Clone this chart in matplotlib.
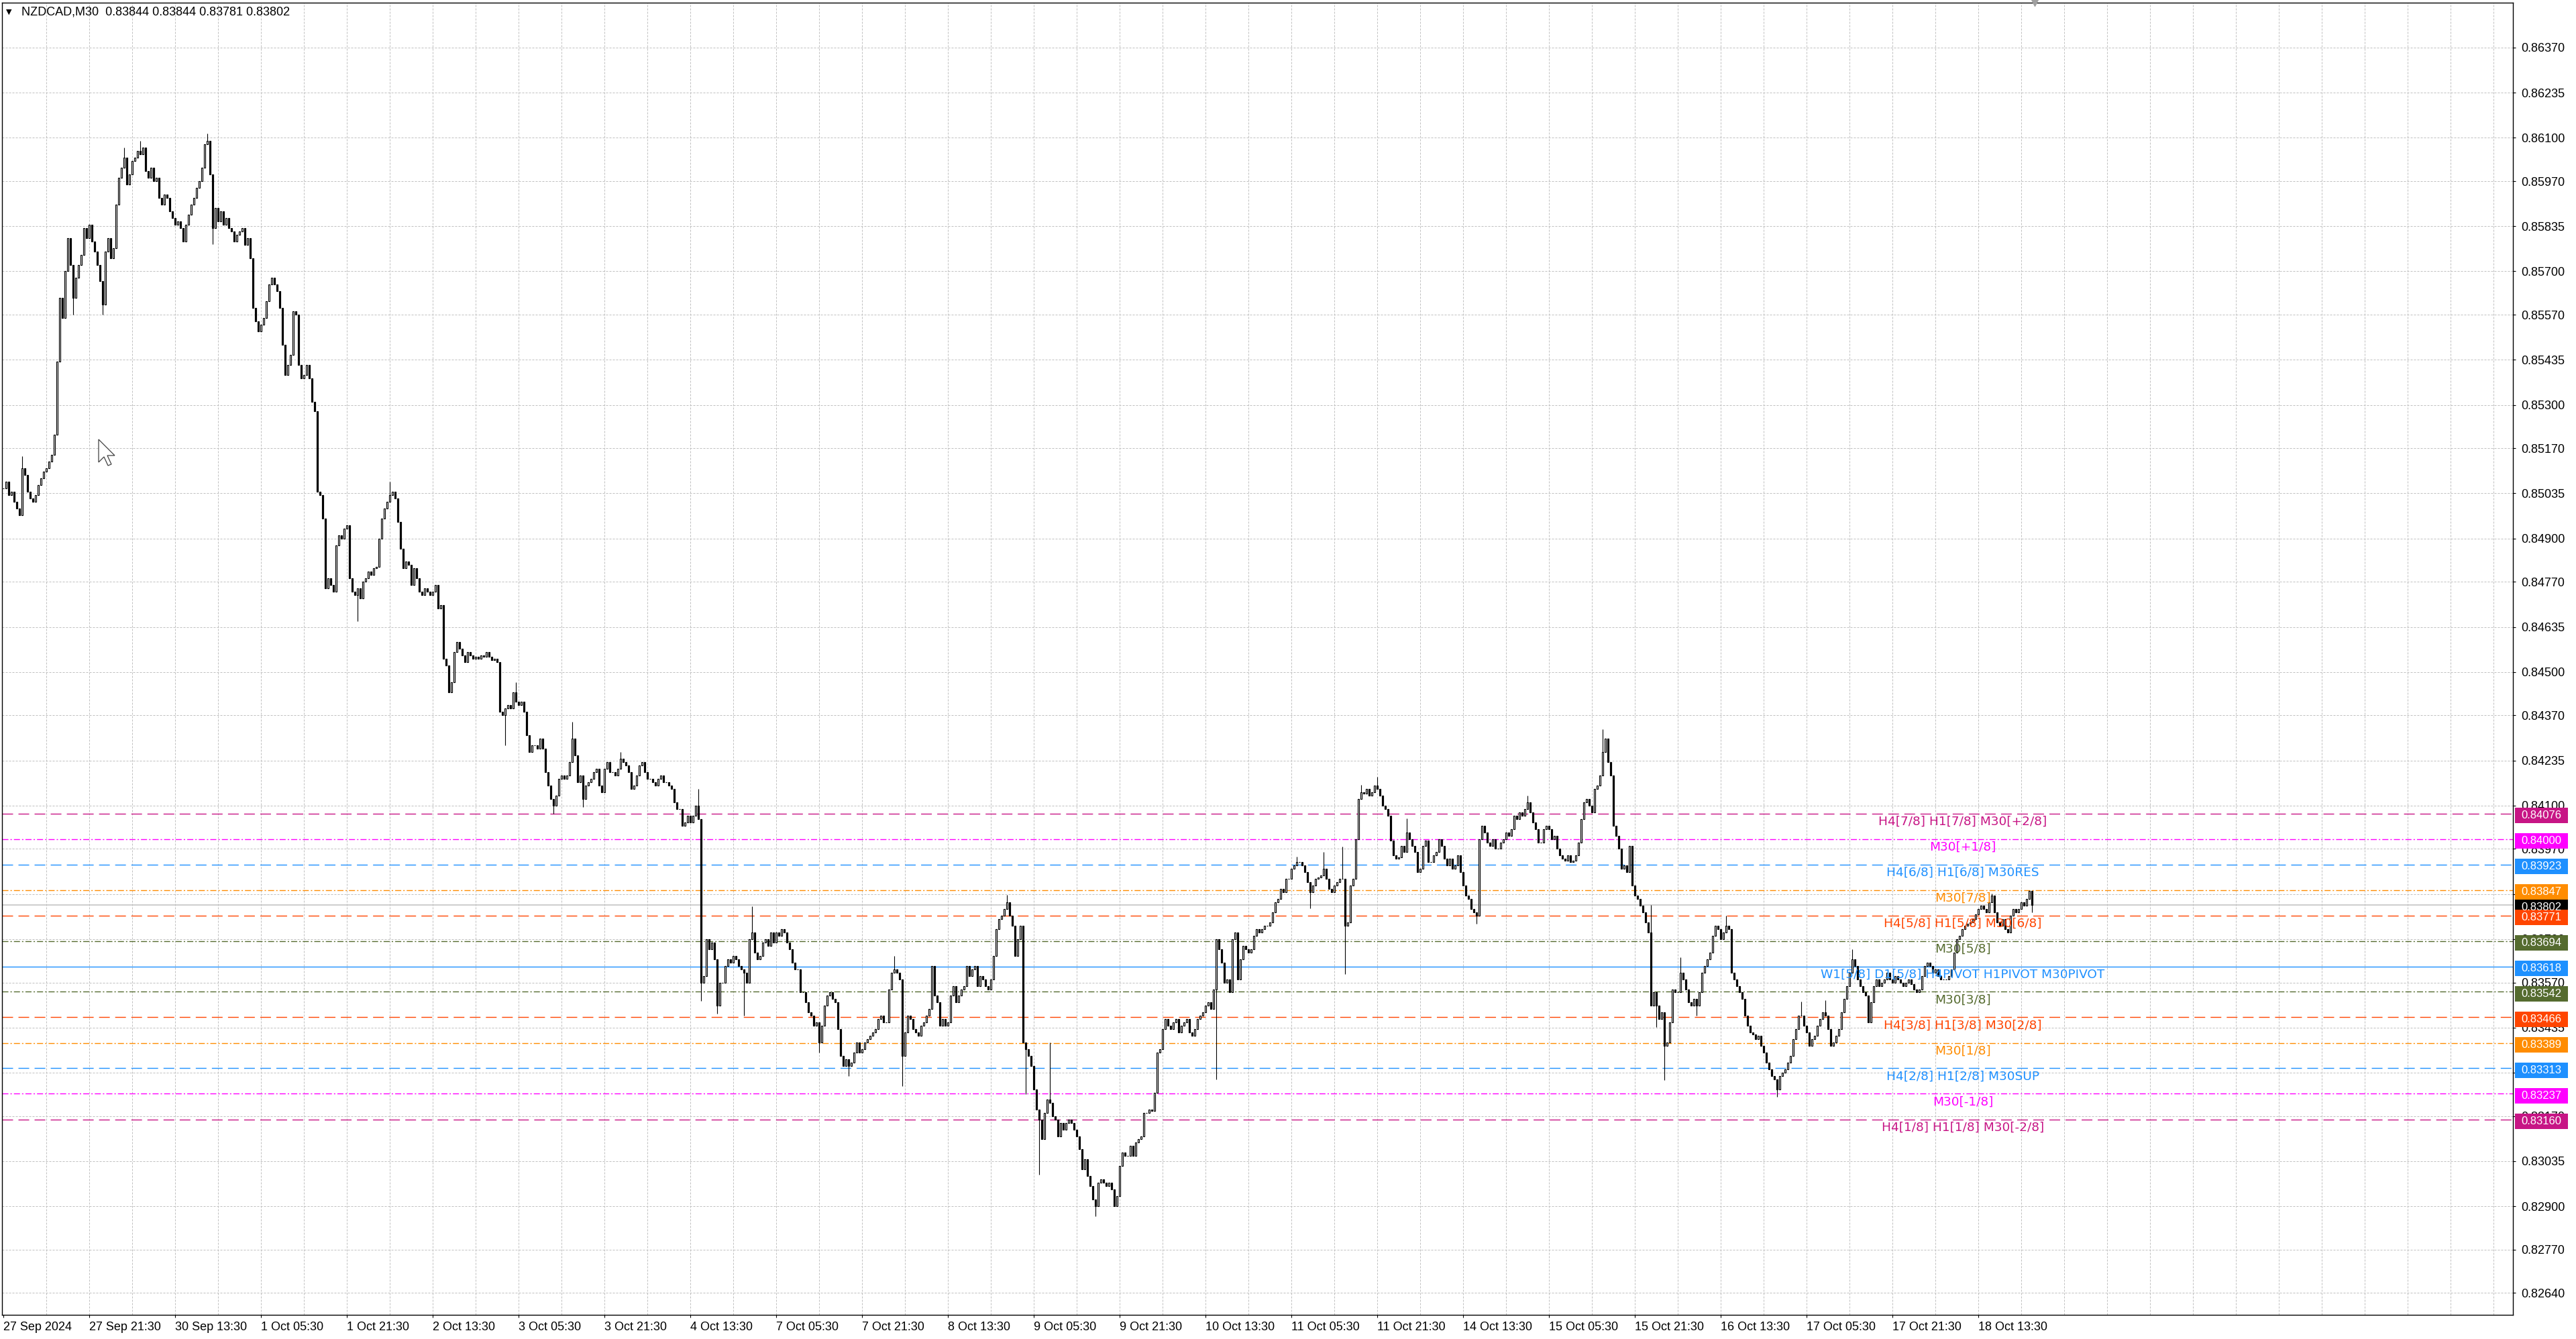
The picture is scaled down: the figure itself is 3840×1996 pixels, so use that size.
import numpy as np
import matplotlib.pyplot as plt
from matplotlib.patches import Rectangle, Polygon

title_text = "NZDCAD,M30  0.83844 0.83844 0.83781 0.83802"

# M30 closes, in points (1e-5), one per bar, 27 Sep 05:30 .. 18 Oct 23:30
close_pts = [
    85050, 85070, 85030, 85040, 85010, 84990, 84970, 85110, 85090, 85040, 85020, 85010, 85030, 85060, 85080, 85100,
    85110, 85130, 85150, 85210, 85430, 85620,
    85560, 85700, 85800, 85720, 85620, 85680, 85720, 85750, 85830, 85800, 85840, 85790, 85760, 85720, 85670,
    85600, 85760, 85800, 85740, 85770, 85900, 85980, 86010, 86040, 85960, 85990, 86030, 86040, 86060, 86050, 86070,
    86000, 85980, 86010, 85970, 85980, 85920, 85900, 85930, 85920, 85880, 85860, 85840,
    85850, 85830, 85790, 85840, 85870, 85900, 85920, 85950, 85970, 86010, 86080, 86090, 85990, 85830, 85890, 85850,
    85880, 85840, 85860, 85830, 85820, 85790, 85810, 85820, 85830, 85780, 85800, 85740,
    85590, 85550, 85520, 85540, 85560, 85610, 85660, 85680, 85660, 85640, 85590, 85480, 85390, 85420, 85450, 85580,
    85570, 85420, 85380, 85390, 85420, 85380, 85310, 85280, 85040, 85030, 84960, 84750,
    84780, 84760, 84740, 84880, 84910, 84900, 84930, 84940, 84780, 84740, 84730, 84750, 84720, 84770, 84780, 84800,
    84790, 84810, 84815, 84900, 84960, 84990, 85010, 85030, 85040, 85020, 84950, 84870,
    84810, 84830, 84820, 84760, 84810, 84780, 84740, 84730, 84750, 84740, 84730, 84740, 84760, 84690, 84700, 84540,
    84520, 84440, 84470, 84560, 84590, 84570, 84550, 84530, 84560, 84550, 84540, 84545,
    84540, 84550, 84545, 84560, 84545, 84535, 84540, 84530, 84380, 84370, 84390, 84400, 84390, 84440, 84410, 84400,
    84410, 84380, 84310, 84260, 84280, 84280, 84270, 84300, 84270, 84200, 84160, 84120, 84100, 84130,
    84180, 84190, 84180, 84190, 84230, 84300, 84250, 84170, 84190, 84120, 84160, 84170, 84180, 84200, 84210, 84160,
    84140, 84210, 84230, 84200, 84200, 84190, 84210, 84240, 84230, 84220,
    84200, 84150, 84160, 84190, 84220, 84230, 84200, 84180, 84180, 84170, 84160,
    84180, 84190, 84170, 84170, 84160, 84150, 84110, 84090,
    84090, 84040, 84050, 84070, 84050, 84070, 84100, 84060, 83570, 83590, 83700, 83670, 83690, 83640,
    83500, 83570, 83570, 83620, 83640, 83630, 83650, 83640, 83620, 83610, 83600, 83570, 83700, 83720, 83660, 83640,
    83650, 83690, 83700, 83680, 83720, 83690, 83720, 83710, 83730, 83720, 83690, 83670,
    83630, 83610, 83610, 83540, 83540, 83510, 83480, 83470, 83440, 83450, 83390, 83440, 83500, 83530, 83540, 83520,
    83510, 83430, 83350, 83320, 83340, 83320, 83330, 83360, 83390, 83360, 83370, 83390,
    83400, 83410, 83420, 83430, 83460, 83470, 83450, 83450, 83550, 83600, 83610, 83600, 83580, 83350, 83420, 83470,
    83460, 83430, 83420, 83410, 83440, 83450, 83470, 83490, 83620, 83530, 83510, 83440,
    83460, 83440, 83450, 83530, 83560, 83510, 83530, 83550, 83560, 83620, 83590, 83610, 83620, 83560, 83590, 83580,
    83560, 83550, 83580, 83650, 83730, 83760, 83770, 83790, 83810, 83770, 83740, 83650,
    83700, 83740, 83390, 83370, 83350, 83320, 83250, 83190, 83160, 83100, 83180, 83220, 83210, 83170, 83160, 83110,
    83150, 83130, 83150, 83160, 83150, 83130, 83110, 83070, 83010, 83040, 82990, 82960,
    82920, 82900, 82970, 82980, 82970, 82960, 82970, 82950, 82900, 82930, 83020, 83060, 83050, 83050, 83080, 83050,
    83090, 83100, 83110, 83180, 83180, 83190, 83185, 83240, 83360, 83370, 83430, 83460,
    83440, 83430, 83450, 83460, 83420, 83440, 83450, 83460, 83420, 83410, 83430, 83460, 83470, 83480, 83500, 83510,
    83490, 83550, 83700, 83670, 83630, 83570, 83580, 83540, 83700, 83720, 83580, 83640,
    83680, 83670, 83660, 83670, 83710, 83730, 83720, 83730, 83740, 83740, 83750, 83780, 83810, 83820, 83850, 83840,
    83880, 83880, 83910, 83920, 83930, 83930, 83920, 83900, 83870, 83840, 83860, 83880, 83885, 83890, 83910, 83880,
    83850, 83840, 83860, 83870, 83880, 83880, 83740, 83750, 83860, 83880,
    84000, 84120, 84140, 84135, 84150, 84130, 84140, 84160, 84150, 84130, 84100, 84090, 84070, 83995, 83950, 83940,
    83945, 83980, 83960, 84020, 84000, 83980, 83960, 83900, 83910, 83980, 83995, 83930, 83930, 83950, 83960, 84000,
    83980, 83940, 83920, 83940, 83910, 83920, 83950, 83900, 83860, 83830, 83820, 83790, 83780, 83770, 84000, 84040,
    84020, 83990, 83980, 84000, 83970, 83970, 83990, 84000, 84020, 84010, 84030, 84070, 84060, 84080, 84070, 84090,
    84110, 84080, 84050, 84030, 83990, 83990, 84030, 84040, 84030, 84000, 84010, 83970, 83950, 83940, 83935, 83950,
    83930, 83935, 83950, 83990, 84060, 84110, 84120, 84100, 84080, 84150, 84160, 84190, 84260, 84300, 84230, 84190,
    84040, 84010, 83970, 83910, 83920, 83900, 83980, 83860, 83830, 83820, 83800, 83780, 83750, 83720, 83500, 83540,
    83500, 83460, 83480, 83380, 83390, 83450, 83550, 83540, 83540, 83600, 83580, 83550, 83510, 83500, 83520, 83500,
    83540, 83600, 83620, 83640, 83660, 83710, 83740, 83730, 83700, 83720, 83740, 83730, 83600, 83580, 83560, 83540,
    83520, 83470, 83440, 83420, 83415, 83400, 83410, 83380, 83360, 83330, 83310, 83290, 83280, 83250, 83290, 83300,
    83310, 83330, 83350, 83400, 83430, 83470, 83470, 83440, 83420, 83380, 83400, 83410, 83440, 83460, 83480, 83470,
    83430, 83380, 83390, 83410, 83430, 83480, 83520, 83560, 83600, 83640, 83620, 83580, 83560, 83540, 83530, 83450,
    83510, 83560, 83580, 83560, 83570, 83580, 83600, 83580, 83570, 83590, 83580, 83570, 83560, 83570, 83580, 83565,
    83550, 83540, 83550, 83590, 83620, 83630, 83620, 83600, 83610, 83590, 83580, 83580, 83580, 83590, 83610, 83660,
    83700, 83710, 83730, 83740, 83745, 83750, 83760, 83775, 83790, 83800, 83790, 83780, 83810, 83830, 83780, 83750,
    83740, 83760, 83730, 83720, 83770, 83790, 83780, 83790, 83810, 83800, 83820, 83844, 83802,
]

# wicks that stick out beyond the bodies (bar index -> price in points)
wick_high = {7: 85147, 45: 86070, 51: 86091, 76: 86112, 144: 85070, 191: 84470, 212: 84350, 230: 84260,
             259: 84149, 279: 83798, 332: 83650, 374: 83832, 390: 83390, 482: 83947, 492: 83961, 499: 83976,
             506: 84161, 512: 84186, 523: 84061, 568: 84130, 596: 84328, 614: 83803, 625: 83645, 642: 83770,
             670: 83512, 679: 83516, 689: 83670, 741: 83837}
wick_low = {26: 85570, 37: 85570, 78: 85781, 132: 84653, 187: 84280, 205: 84075, 216: 84096,
            260: 83515, 266: 83476, 276: 83471, 304: 83360, 315: 83290, 335: 83260, 381: 83236, 386: 82995,
            407: 82870, 452: 83279, 487: 83793, 500: 83596,
            549: 83745, 616: 83437, 619: 83278, 631: 83470, 661: 83228, 756: 83781}

date_labels = ["27 Sep 2024", "27 Sep 21:30", "30 Sep 13:30", "1 Oct 05:30", "1 Oct 21:30", "2 Oct 13:30",
               "3 Oct 05:30", "3 Oct 21:30", "4 Oct 13:30", "7 Oct 05:30", "7 Oct 21:30", "8 Oct 13:30",
               "9 Oct 05:30", "9 Oct 21:30", "10 Oct 13:30", "11 Oct 05:30", "11 Oct 21:30", "14 Oct 13:30",
               "15 Oct 05:30", "15 Oct 21:30", "16 Oct 13:30", "17 Oct 05:30", "17 Oct 21:30", "18 Oct 13:30"]

price_ticks = [0.86370, 0.86235, 0.86100, 0.85970, 0.85835, 0.85700, 0.85570, 0.85435, 0.85300, 0.85170,
               0.85035, 0.84900, 0.84770, 0.84635, 0.84500, 0.84370, 0.84235, 0.84100, 0.83970, 0.83835,
               0.83700, 0.83570, 0.83435, 0.83300, 0.83170, 0.83035, 0.82900, 0.82770, 0.82640]
hidden_ticks = [0.83835, 0.83300]  # fully covered by the price boxes

level_prices = [0.84076, 0.84000, 0.83923, 0.83847, 0.83771, 0.83694, 0.83618,
                0.83542, 0.83466, 0.83389, 0.83313, 0.83237, 0.83160]
level_names = ["H4[7/8] H1[7/8] M30[+2/8]", "M30[+1/8]", "H4[6/8] H1[6/8] M30RES", "M30[7/8]",
               "H4[5/8] H1[5/8] M30[6/8]", "M30[5/8]", "W1[5/8] D1[5/8] H4PIVOT H1PIVOT M30PIVOT",
               "M30[3/8]", "H4[3/8] H1[3/8] M30[2/8]", "M30[1/8]", "H4[2/8] H1[2/8] M30SUP",
               "M30[-1/8]", "H4[1/8] H1[1/8] M30[-2/8]"]
level_colors = ["#C71585", "#FF00FF", "#1E90FF", "#FF8C00", "#FF4500", "#556B2F", "#1E90FF",
                "#556B2F", "#FF4500", "#FF8C00", "#1E90FF", "#FF00FF", "#C71585"]
level_kinds = ["dash", "dashdot", "dash", "dashdot", "dash", "dashdot", "solid",
               "dashdot", "dash", "dashdot", "dash", "dashdot", "dash"]
current_price = 0.83802

# ---- build candles
close = np.array(close_pts) / 1e5
open_ = np.concatenate([[close[0]], close[:-1]])
high = np.maximum(open_, close)
low = np.minimum(open_, close)
for b, v in wick_high.items():
    high[b] = max(high[b], v / 1e5)
for b, v in wick_low.items():
    low[b] = min(low[b], v / 1e5)
x = np.arange(len(close))

W, H = 3840, 1996
fig = plt.figure(figsize=(W / 100, H / 100), dpi=100)
ax_l, ax_r, ax_t, ax_b = 3, 3746, 4, 1960
ax = fig.add_axes([ax_l / W, 1 - ax_b / H, (ax_r - ax_l) / W, (ax_b - ax_t) / H])
ax.set_axisbelow(True)

px_per_bar = 4.0
ax.set_xlim((ax_l - 5) / px_per_bar, (ax_r - 5) / px_per_bar)
px_per_price = 49770.0
y_top = 0.86370 + (71 - ax_t) / px_per_price
y_bot = 0.86370 - (ax_b - 71) / px_per_price
ax.set_ylim(y_bot, y_top)

grid_kw = dict(color="#C0C0C0", lw=0.72, ls=(0, (3, 2)), zorder=0.5)
for p in price_ticks:
    ax.axhline(p, **grid_kw)
for g in range(16, 936, 16):
    ax.axvline(g, **grid_kw)

styles = {"dash": (0, (11.5, 5.8)), "dashdot": (0, (6.5, 2.2, 1.5, 2.2)), "solid": "-"}
for p, c, k in zip(level_prices, level_colors, level_kinds):
    ax.axhline(p, color=c, lw=1.0, ls=styles[k], zorder=1)
ax.axhline(current_price, color="#C0C0C0", lw=1.1, zorder=1)

# candles
ax.vlines(x, low, high, color="black", lw=0.8, zorder=2)
up = close >= open_
ax.bar(x[up], close[up] - open_[up], bottom=open_[up], width=0.6,
       facecolor="white", edgecolor="black", lw=0.85, zorder=3)
ax.bar(x[~up], close[~up] - open_[~up], bottom=open_[~up], width=0.6,
       facecolor="black", edgecolor="black", lw=0.85, zorder=3)

# level captions
label_x = (2926 - 5) / px_per_bar
for p, c, name in zip(level_prices, level_colors, level_names):
    ax.annotate(name, xy=(label_x, p), xytext=(0, -12), textcoords="offset pixels",
                ha="center", va="center", color=c, fontsize=13.3, family="DejaVu Sans", zorder=4)

# axes cosmetics
for s in ax.spines.values():
    s.set_color("black")
    s.set_linewidth(1.0)
ax.yaxis.tick_right()
ax.set_yticks(price_ticks)
ax.set_yticklabels(["" if p in hidden_ticks else f"{p:.5f}" for p in price_ticks],
                   family="Liberation Sans", fontsize=13)
ax.tick_params(axis="y", direction="out", length=3, width=0.8, pad=6)
ax.set_xticks(range(0, 32 * len(date_labels), 32))
ax.set_xticklabels(date_labels, family="Liberation Sans", fontsize=13, ha="left")
ax.tick_params(axis="x", direction="out", length=3, width=0.8, pad=4)

# price boxes on the right scale (box sits ~3 px below the level)
box_h = 23 / px_per_price
box_shift = 3 / px_per_price
bx0 = (3749 - ax_l) / (ax_r - ax_l)
bw = 79 / (ax_r - ax_l)
ytr = ax.get_yaxis_transform()
boxes = [(current_price, "black", 9)] + [(p, c, 10) for p, c in zip(level_prices, level_colors)]
for p, c, z in boxes:
    yc = p - box_shift
    ax.add_patch(Rectangle((bx0, yc - box_h / 2), bw, box_h, transform=ytr, facecolor=c,
                           edgecolor="none", clip_on=False, zorder=z))
    ax.text(bx0 + bw / 2, yc, f"{p:.5f}", transform=ytr, ha="center", va="center", color="white",
            family="Liberation Sans", fontsize=12, clip_on=False, zorder=11)

# header
fig.text(13 / W, 1 - 18 / H, "\u25BC", family="DejaVu Sans", fontsize=8, ha="center", va="center")
fig.text(32 / W, 1 - 18 / H, title_text, family="Liberation Sans", fontsize=13, ha="left", va="center")
ax.plot([len(close)], [y_top], marker="v", color="#A0A0A0", ms=7, clip_on=False, zorder=12)

# mouse pointer left on the screenshot
cur = np.array([(0, 0), (0, 34), (8, 26), (14, 39), (19, 37), (13, 24), (24, 24)], float)
cur[:, 0] = (147 + cur[:, 0]) / W
cur[:, 1] = 1 - (655 + cur[:, 1]) / H
fig.add_artist(Polygon(cur, closed=True, transform=fig.transFigure, facecolor="white",
                       edgecolor="#404040", lw=0.9, zorder=20))

fig.savefig("out.png", dpi=100, facecolor="white")
